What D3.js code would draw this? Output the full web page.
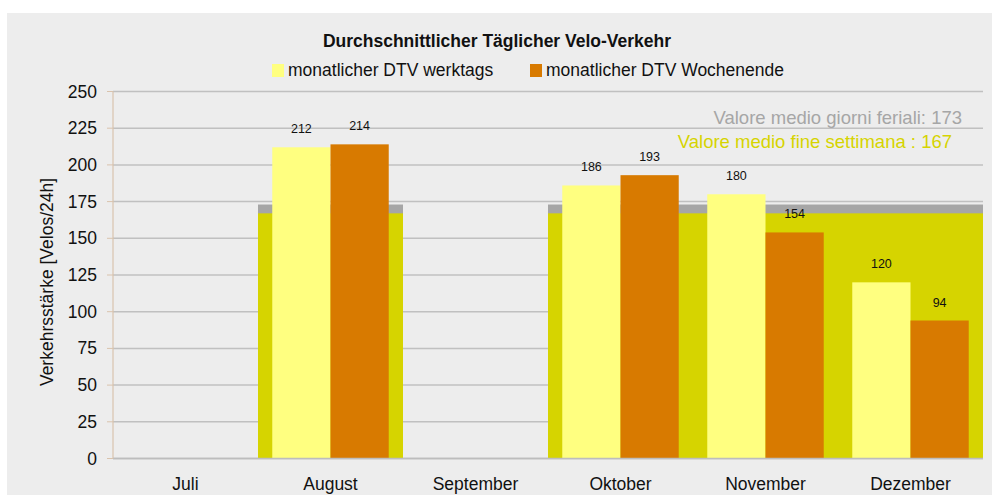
<!DOCTYPE html>
<html><head><meta charset="utf-8">
<script src="https://cdn.jsdelivr.net/npm/d3@7"></script>
<style>body{margin:0;background:#fff;} svg{display:block;font-family:"Liberation Sans",Arial,sans-serif;}</style>
</head><body>
<svg id="c" width="992" height="495"></svg>
<script>
const months = ["Juli","August","September","Oktober","November","Dezember"];
const werktags = [null,212,null,186,180,120];
const wochenende = [null,214,null,193,154,94];
const avgWerktags = 173;
const avgWochenende = 167;
const yTicks = [0,25,50,75,100,125,150,175,200,225,250];
const seriesNames = ["monatlicher DTV werktags","monatlicher DTV Wochenende"];

const svg = d3.select("#c");
svg.append("rect").attr("x",7).attr("y",13).attr("width",985).attr("height",482).attr("fill","#ededed");

const L=113, R=983, T=91.5, B=458.5;
const x = d3.scaleBand().domain(months).range([L,R]).padding(0);
const y = d3.scaleLinear().domain([0,250]).range([B,T]);
const inner = d3.scaleBand().domain([0,1]).range([0,x.bandwidth()]).paddingOuter(0.245).paddingInner(0);

// gridlines
svg.append("g").selectAll("line").data(yTicks).join("line")
  .attr("x1",L).attr("x2",R).attr("y1",d=>y(d)).attr("y2",d=>y(d))
  .attr("stroke","#c0c0c0").attr("stroke-width",1.5);

// average background bars
const hasData = months.filter((m,i)=>werktags[i]!=null);
svg.append("g").selectAll("rect").data(hasData).join("rect")
  .attr("x",d=>x(d)).attr("width",x.bandwidth())
  .attr("y",y(avgWerktags)).attr("height",B-y(avgWerktags)).attr("fill","#a6a6a6");
svg.append("g").selectAll("rect").data(hasData).join("rect")
  .attr("x",d=>x(d)).attr("width",x.bandwidth())
  .attr("y",y(avgWochenende)).attr("height",B-y(avgWochenende)).attr("fill","#d6d400");

// bars
const colors = ["#ffff80","#d87a00"];
[werktags,wochenende].forEach((vals,s)=>{
  const g = svg.append("g");
  const data = months.map((m,i)=>({m,v:vals[i]})).filter(d=>d.v!=null);
  g.selectAll("rect").data(data).join("rect")
    .attr("x",d=>x(d.m)+inner(s)).attr("width",inner.bandwidth())
    .attr("y",d=>y(d.v)).attr("height",d=>B-y(d.v)).attr("fill",colors[s]);
  g.selectAll("text").data(data).join("text")
    .attr("x",d=>x(d.m)+inner(s)+inner.bandwidth()/2).attr("y",d=>y(d.v)-14)
    .attr("text-anchor","middle").attr("font-size",12.5).attr("fill","#111").text(d=>d.v);
});

// zero line
svg.append("line").attr("x1",L).attr("x2",R).attr("y1",B).attr("y2",B).attr("stroke","#bdbdbd").attr("stroke-width",1.5);
// y axis
svg.append("line").attr("x1",L).attr("x2",L).attr("y1",T).attr("y2",B).attr("stroke","#d9c3ad").attr("stroke-width",1.2);
const ya = svg.append("g");
ya.selectAll("line").data(yTicks).join("line")
  .attr("x1",L-6).attr("x2",L).attr("y1",d=>y(d)).attr("y2",d=>y(d)).attr("stroke","#d9c3ad");
ya.selectAll("text").data(yTicks).join("text")
  .attr("x",97).attr("y",d=>y(d)+6).attr("text-anchor","end").attr("font-size",17.5).attr("fill","#111").text(d=>d);

// x labels
svg.append("g").selectAll("text").data(months).join("text")
  .attr("x",d=>x(d)+x.bandwidth()/2).attr("y",490).attr("text-anchor","middle")
  .attr("font-size",17.5).attr("fill","#111").text(d=>d);

// y title
svg.append("text").attr("transform","translate(53,282) rotate(-90)").attr("text-anchor","middle")
  .attr("font-size",17.5).attr("fill","#111").text("Verkehrsstärke [Velos/24h]");

// title
svg.append("text").attr("x",497).attr("y",47).attr("text-anchor","middle").attr("font-size",17.5)
  .attr("font-weight","bold").attr("fill","#111").text("Durchschnittlicher Täglicher Velo-Verkehr");

// legend
const lx=[272,530];
seriesNames.forEach((n,i)=>{
  svg.append("rect").attr("x",lx[i]).attr("y",64).attr("width",12).attr("height",13).attr("fill",colors[i]);
  svg.append("text").attr("x",lx[i]+16).attr("y",76).attr("font-size",17.5).attr("fill","#111").text(n);
});

// average labels
svg.append("text").attr("x",962).attr("y",124).attr("text-anchor","end").attr("font-size",18.5)
  .attr("fill","#a6a6a6").text("Valore medio giorni feriali: " + avgWerktags);
svg.append("text").attr("x",952).attr("y",148).attr("text-anchor","end").attr("font-size",18.5)
  .attr("fill","#d6d400").text("Valore medio fine settimana : " + avgWochenende);
</script>
</body></html>
